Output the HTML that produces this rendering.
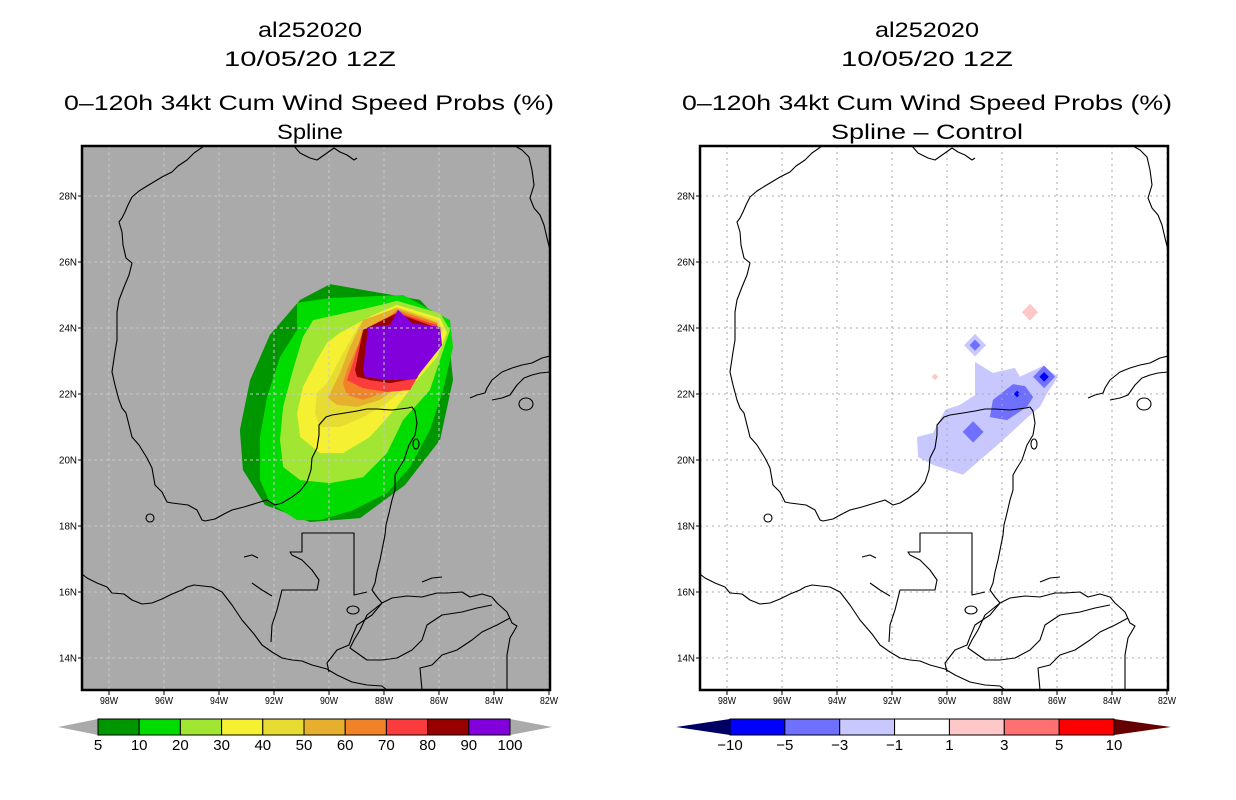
<!DOCTYPE html>
<html><head><meta charset="utf-8"><title>al252020 wind speed probs</title>
<style>
html,body{margin:0;padding:0;background:#fff;}
svg{display:block;font-family:"Liberation Sans",sans-serif;}
</style></head>
<body>
<svg id="fig" width="1236" height="800" viewBox="0 0 1236 800" xmlns="http://www.w3.org/2000/svg">
<defs>
<clipPath id="clipL"><rect x="82" y="146" width="468" height="544"/></clipPath>
<clipPath id="clipR"><rect x="700" y="146" width="468" height="544"/></clipPath>
<g id="coast" fill="none" stroke="#000" stroke-width="1.1" stroke-linejoin="round">
<polyline points="822,146 812,153 805,160 796,166 790,172 780,177 775,180 765,186 757,191 750,197 746,205 743,212 740,218 737,222 740,232 741,245 744,258 750,263 747,275 742,287 737,300 735,312 735,325 735,340 733,352 730,372 733,385 737,400 740,408 744,413 750,437 757,445 765,458 770,468 773,485 780,492 785,502 790,503 806,505 815,510 820,520 823,521 833,519 842,514 850,510 862,507 875,503 885,500 893,505 900,503 910,497 918,491 925,482 929,470 930,458 935,448 937,435 937,425 944,417 950,415 963,413 975,411 985,409 995,409 1010,410 1018,409 1026,408 1030,407 1033,411 1035,423 1033,435 1027,445 1022,460 1017,468 1013,475 1013,490 1010,500 1007,513 1004,525 1003,535 1001,545 998,560 995,572 993,583 990,590 995,597 1000,603 1010,598 1025,596 1040,597 1055,593 1065,593 1080,592 1088,597 1100,594 1110,597 1115,603 1125,612 1130,623 1135,626 1128,638 1125,655 1125,690"/>
<polyline points="700,574 705,578 715,583 725,587 730,593 742,594 750,600 760,604 770,603 780,599 790,594 800,590 805,587 812,585 830,587 840,592 850,605 860,620 872,634 880,645 890,652 900,658 910,660 920,661 930,665 945,669 955,675 970,682 985,685 1000,686 1005,690"/>
<polyline points="889,642 890,625 895,610 900,590 935,590 937,580 930,570 920,560 910,555 908,552 920,552 920,533 972,533 972,595 985,592"/>
<polyline points="1000,603 990,615 975,625 970,637 967,645 955,650 945,663 947,672"/>
<polyline points="1000,603 985,615 978,630 972,640 968,648 985,660 1000,660 1015,658 1030,650 1040,640 1045,625 1060,615 1080,612 1095,608 1110,605"/>
<polyline points="1040,690 1038,668 1050,665 1060,655 1075,650 1090,640 1100,632 1115,625 1128,618"/>
<polyline points="912,146 918,153 928,158 935,160 945,153 952,148 958,152 965,155 972,160 975,158"/>
<polyline points="1133,146 1140,150 1147,157 1150,170 1152,185 1148,198 1152,208 1158,215 1162,225 1165,238 1168,250"/>
<polyline points="1088,398 1095,395 1103,393 1105,388 1110,380 1120,372 1130,368 1140,365 1150,363 1160,358 1168,356"/>
<polyline points="1168,372 1158,373 1150,375 1142,378 1135,385 1128,395 1120,398 1110,400"/>
<ellipse cx="1144" cy="404" rx="7" ry="6"/>
<ellipse cx="1034" cy="444" rx="3" ry="5"/>
<ellipse cx="768" cy="518" rx="4" ry="4"/>
<polyline points="862,557 870,555 876,558"/>
<polyline points="870,583 880,590 890,596"/>
<polyline points="1040,582 1050,578 1060,577"/>
<ellipse cx="971" cy="610" rx="6" ry="4"/>
</g>
</defs>

<g id="titles" font-size="21" fill="#000">
<text x="310" y="37" text-anchor="middle" textLength="104" lengthAdjust="spacingAndGlyphs">al252020</text>
<text x="310" y="66" text-anchor="middle" textLength="172" lengthAdjust="spacingAndGlyphs">10/05/20 12Z</text>
<text x="309" y="110" text-anchor="middle" textLength="490" lengthAdjust="spacingAndGlyphs">0–120h 34kt Cum Wind Speed Probs (%)</text>
<text x="310" y="139" text-anchor="middle" textLength="66" lengthAdjust="spacingAndGlyphs">Spline</text>
<text x="927" y="37" text-anchor="middle" textLength="104" lengthAdjust="spacingAndGlyphs">al252020</text>
<text x="927" y="66" text-anchor="middle" textLength="172" lengthAdjust="spacingAndGlyphs">10/05/20 12Z</text>
<text x="927" y="110" text-anchor="middle" textLength="490" lengthAdjust="spacingAndGlyphs">0–120h 34kt Cum Wind Speed Probs (%)</text>
<text x="927" y="139" text-anchor="middle" textLength="192" lengthAdjust="spacingAndGlyphs">Spline – Control</text>
</g>

<g id="mapL">
<rect x="82" y="146" width="468" height="544" fill="#aaaaaa"/>
<g clip-path="url(#clipL)">
<g id="contoursL"></g>
<g id="gridL"></g>
<use href="#coast" transform="translate(-618,0)"/>
</g>
<rect x="82" y="146" width="468" height="544" fill="none" stroke="#000" stroke-width="2.5"/>
<g id="axesL"></g>
</g>

<g id="mapR">
<rect x="700" y="146" width="468" height="544" fill="#fff"/>
<g clip-path="url(#clipR)">
<g id="contoursR"></g>
<g id="gridR"></g>
<use href="#coast"/>
</g>
<rect x="700" y="146" width="468" height="544" fill="none" stroke="#000" stroke-width="2.5"/>
<g id="axesR"></g>
</g>

<g id="cbarL"></g>
<g id="cbarR"></g>
</svg>
<script>
// ---- data ----
const lonTicks = [98, 96, 94, 92, 90, 88, 86, 84, 82];
const latTicks = [14, 16, 18, 20, 22, 24, 26, 28];
const probLevels = [5, 10, 20, 30, 40, 50, 60, 70, 80, 90, 100];
const probColors = ["#009600","#00dc00","#a0e632","#f5f032","#e6dc32","#e6af2d","#f08228","#fa3c3c","#980000","#8200dc"];
const diffLevels = [-10, -5, -3, -1, 1, 3, 5, 10];
const diffColors = ["#0000ff","#7070ff","#c8c8ff","#ffffff","#ffc8c8","#ff7070","#ff0000"];
// contour polygons: [lonW, latN] pairs
const p05 = [[89.96,25.33],[86.69,24.85],[85.67,23.94],[85.49,22.42],[85.96,20.61],[87.24,19.24],[88.87,18.24],[90.69,18.12],[92.33,18.64],[93.13,19.70],[93.24,20.91],[92.87,22.42],[92.15,23.79],[91.05,24.85]];
const p10 = [[91.16,24.76],[89.96,24.91],[87.31,25.0],[85.6,24.24],[85.49,23.42],[85.85,22.12],[86.33,20.91],[87.05,19.79],[87.89,19.0],[89.13,18.48],[90.33,18.18],[91.16,18.18],[92.15,18.70],[92.51,19.39],[92.51,20.70],[92.25,21.91],[91.78,23.12],[91.16,23.94]];
const p20 = [[90.58,24.24],[88.4,24.64],[87.53,24.82],[85.96,24.45],[85.6,23.94],[86.33,22.12],[87.31,21.21],[87.89,20.21],[88.76,19.48],[89.96,19.30],[91.05,19.39],[91.67,19.79],[91.78,20.61],[91.67,21.61],[91.31,22.73],[90.95,23.73]];
const p30 = [[89.6,23.85],[88.4,24.39],[87.53,24.70],[85.96,24.30],[85.71,23.85],[86.07,23.12],[86.8,22.42],[87.53,21.61],[88.51,20.70],[89.49,20.21],[90.33,20.21],[91.05,20.70],[91.16,21.42],[90.95,22.21],[90.44,23.03],[90.07,23.55]];
const p40 = [[90.07,22.33],[89.49,23.24],[88.87,24.15],[87.53,24.64],[86.04,24.24],[85.85,23.94],[86.33,23.03],[87.05,22.33],[87.89,21.73],[88.76,21.30],[89.6,21.0],[90.33,21.0],[90.51,21.42],[90.44,22.03]];
const p50 = [[89.6,22.64],[89.24,23.42],[88.76,24.24],[87.53,24.61],[86.07,24.18],[85.96,23.94],[86.58,22.94],[87.31,22.33],[88.15,21.82],[88.98,21.61],[89.71,21.67],[90.04,21.88]];
const p60 = [[89.49,22.33],[89.35,22.73],[88.98,23.42],[87.53,24.55],[86.07,24.15],[86.04,23.94],[86.69,22.82],[87.31,22.33],[88.04,22.03],[88.76,21.82],[89.35,21.97]];
const p70 = [[89.35,22.42],[89.13,22.94],[88.76,23.94],[87.53,24.48],[86.07,24.09],[86.69,22.64],[87.05,22.12],[87.89,22.06],[88.76,22.18]];
const p80 = [[89.05,22.73],[88.76,23.94],[87.53,24.45],[86.15,24.03],[86.8,22.48],[87.78,22.33],[88.51,22.42],[88.98,22.52]];
const p90 = [[88.76,22.73],[88.58,24.03],[87.78,24.09],[87.49,24.55],[86.98,24.15],[85.96,24.03],[85.89,23.48],[86.87,22.45],[87.89,22.42],[88.69,22.52]];
const probPolys = [p05, p10, p20, p30, p40, p50, p60, p70, p80, p90];
// difference field
const dLight = [[88.98,22.97],[88.33,22.64],[87.53,22.79],[87.35,22.52],[86.51,22.85],[85.96,22.52],[86.33,22.06],[86.62,21.61],[86.98,21.36],[88.07,20.52],[89.42,19.55],[90.51,19.85],[91.05,20.09],[91.09,20.70],[90.51,20.82],[90.07,21.52],[89.53,21.67],[88.98,21.97],[88.98,22.42]];
const dMed = [[88.33,21.82],[87.6,22.30],[87.16,22.24],[86.87,21.91],[87.09,21.61],[87.82,21.21],[88.44,21.30]];
// diamonds: lonW, latN, value, half-width in degrees
const diaLon = [88.98, 88.98, 89.05, 86.47, 86.47, 87.45, 86.98, 90.44];
const diaLat = [23.48, 23.48, 20.85, 22.52, 22.52, 22.0, 24.48, 22.52];
const diaVal = [-2, -4, -4, -4, -6, -6, 2, 2];
const diaSize = [0.4, 0.2, 0.38, 0.4, 0.17, 0.12, 0.3, 0.12];

// ---- axes ----
const NS = "http://www.w3.org/2000/svg";
function mk(tag, attrs, parent){const e=document.createElementNS(NS,tag);for(const k in attrs)e.setAttribute(k,attrs[k]);parent.appendChild(e);return e;}
function xL(lon){return 109 + (98 - lon) * 27.5;}
function xR(lon){return 727 + (98 - lon) * 27.5;}
function yM(lat){return 196 + (28 - lat) * 33;}
function pts(poly, xf){return poly.map(p => xf(p[0]).toFixed(1) + "," + yM(p[1]).toFixed(1)).join(" ");}
function diffColor(v){for(let i=0;i<diffLevels.length-1;i++){if(v>=diffLevels[i]&&v<diffLevels[i+1])return diffColors[i];}return v<diffLevels[0]?"#000064":"#640000";}

// left contours
const cL = document.getElementById("contoursL");
probPolys.forEach((poly, i) => {
  const el = mk("polygon", {points: pts(poly, xL), fill: probColors[i]}, cL);
  
  
});

// right contours
const cR = document.getElementById("contoursR");
const lp = mk("polygon", {points: pts(dLight, xR), fill: diffColor(-2)}, cR);


const mp = mk("polygon", {points: pts(dMed, xR), fill: diffColor(-4)}, cR);


diaLon.forEach((lon, i) => {
  const s = diaSize[i];
  const poly = [[lon, diaLat[i] + s * 0.85], [lon - s, diaLat[i]], [lon, diaLat[i] - s * 0.85], [lon + s, diaLat[i]]];
  const d = mk("polygon", {points: pts(poly, xR), fill: diffColor(diaVal[i])}, cR);
  
  
});

// grids + axes
function grid(gid, aid, xf, x0, stroke, dash){
  const g = document.getElementById(gid), a = document.getElementById(aid);
  lonTicks.forEach(lon => {
    mk("line", {x1: xf(lon), x2: xf(lon), y1: 146, y2: 690, stroke: stroke, "stroke-width": 1, "stroke-dasharray": dash}, g);
    mk("line", {x1: xf(lon), x2: xf(lon), y1: 690, y2: 695, stroke: "#000", "stroke-width": 1}, a);
    const t = mk("text", {x: xf(lon), y: 704, "text-anchor": "middle", "font-size": 10, textLength: 18, lengthAdjust: "spacingAndGlyphs"}, a);
    t.textContent = lon + "W";
    
    
  });
  latTicks.forEach(lat => {
    mk("line", {x1: x0, x2: x0 + 468, y1: yM(lat), y2: yM(lat), stroke: stroke, "stroke-width": 1, "stroke-dasharray": dash}, g);
    mk("line", {x1: x0 - 4, x2: x0, y1: yM(lat), y2: yM(lat), stroke: "#000", "stroke-width": 1}, a);
    const t = mk("text", {x: x0 - 5, y: yM(lat) + 3.5, "text-anchor": "end", "font-size": 10, textLength: 18, lengthAdjust: "spacingAndGlyphs"}, a);
    t.textContent = lat + "N";
    
    
  });
}
grid("gridL", "axesL", xL, 82, "#c8c8c8", "3,3");
grid("gridR", "axesR", xR, 700, "#a8a8a8", "2,4");

// colorbars
function cbar(gid, x0, x1, tipL, tipR, colors, labels, leftTip, rightTip, labelStart){
  const g = document.getElementById(gid);
  const y0 = 719, y1 = 735, ym = 727;
  const n = colors.length, w = (x1 - x0) / n;
  const tl = mk("polygon", {points: `${tipL},${ym} ${x0},${y0} ${x0},${y1}`, fill: leftTip}, g);
  
  
  const tr = mk("polygon", {points: `${tipR},${ym} ${x1},${y0} ${x1},${y1}`, fill: rightTip}, g);
  
  
  colors.forEach((c, i) => {
    const r = mk("rect", {x: x0 + i * w, y: y0, width: w, height: y1 - y0, fill: c, stroke: "#000", "stroke-width": 1}, g);
    
    
  });
  labels.forEach((lb, i) => {
    const t = mk("text", {x: x0 + i * w, y: 750, "text-anchor": "middle", "font-size": 15}, g);
    t.textContent = String(lb).replace("-", "\u2212");
    
    
  });
}
cbar("cbarL", 98, 510, 58, 552, probColors, probLevels, "#aaaaaa", "#aaaaaa");
cbar("cbarR", 730, 1114, 676, 1171, diffColors, diffLevels, "#000064", "#640000");
</script>
</body></html>
